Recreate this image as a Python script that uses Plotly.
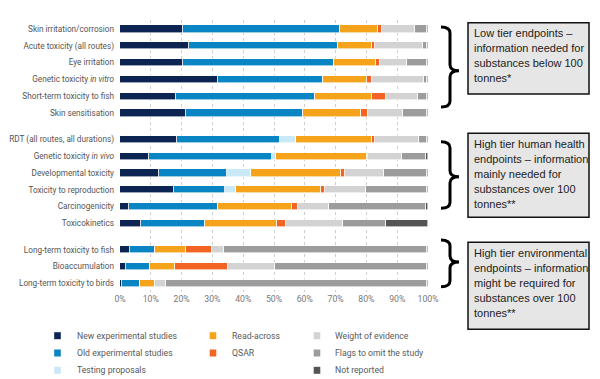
import plotly.graph_objects as go

categories = [
    "Skin irritation/corrosion", "Acute toxicity (all routes)", "Eye irritation",
    "Genetic toxicity <i>in vitro</i>", "Short-term toxicity to fish", "Skin sensitisation",
    "RDT (all routes, all durations)", "Genetic toxicity <i>in vivo</i>", "Developmental toxicity",
    "Toxicity to reproduction", "Carcinogenicity", "Toxicokinetics",
    "Long-term toxicity to fish", "Bioaccumulation", "Long-term toxicity to birds",
]
groups = [0, 0, 0, 0, 0, 0, 1, 1, 1, 1, 1, 1, 2, 2, 2]

new_experimental = [20.3, 22.5, 20.3, 31.7, 18.2, 21.4, 18.4, 9.3, 12.7, 17.6, 2.9, 6.9, 3.1, 1.8, 0.8]
old_experimental = [51.0, 48.4, 49.2, 34.1, 45.1, 38.0, 33.6, 40.0, 22.0, 16.6, 28.9, 20.8, 8.1, 8.0, 5.7]
testing_proposals = [0, 0, 0, 0, 0, 0, 5.3, 1.4, 7.9, 3.3, 0, 0, 0, 0, 0]
read_across = [12.4, 10.8, 13.6, 14.3, 18.6, 19.0, 24.6, 29.5, 29.2, 27.9, 24.1, 23.2, 10.3, 7.9, 4.8]
qsar = [1.5, 1.0, 1.4, 1.6, 4.5, 2.0, 0.8, 0.4, 1.3, 1.2, 2.0, 3.0, 8.4, 17.4, 0.2]
weight_of_evidence = [10.6, 15.7, 8.8, 16.9, 10.4, 11.6, 14.3, 10.8, 12.7, 13.2, 9.9, 18.6, 4.0, 15.3, 3.5]
flags_omit = [4.0, 1.4, 6.5, 1.2, 2.8, 7.6, 2.6, 8.0, 14.0, 20.0, 31.5, 14.0, 65.9, 49.2, 84.8]
not_reported = [0.2, 0.2, 0.2, 0.2, 0.4, 0.4, 0.4, 0.6, 0.2, 0.2, 0.7, 13.5, 0.2, 0.4, 0.2]

series_names = ["New experimental studies", "Old experimental studies", "Testing proposals",
                "Read-across", "QSAR", "Weight of evidence", "Flags to omit the study", "Not reported"]
series_values = [new_experimental, old_experimental, testing_proposals, read_across, qsar,
                 weight_of_evidence, flags_omit, not_reported]
series_colors = ["#0b2452", "#0a85c4", "#c9e8f8", "#f6a31c", "#f26423", "#d3d3d3", "#9c9c9c", "#555555"]

x_ticks = [0, 10, 20, 30, 40, 50, 60, 70, 80, 90, 100]

group_boxes = [
    ["Low tier endpoints –", "information needed for", "substances below 100", "tonnes*"],
    ["High tier human health", "endpoints – information", "mainly needed for", "substances over 100", "tonnes**"],
    ["High tier environmental", "endpoints – information", "might be required for", "substances over 100", "tonnes**"],
]

FONT = "Roboto, Liberation Sans, Arial, sans-serif"
BOXFONT = "Liberation Sans, Arial, sans-serif"

# row positions with a gap between groups
GAP = 0.57
ypos = [i + g * GAP for i, g in enumerate(groups)]

# page body has an 8px margin: figure is placed at (8, 8) in the window
OFF = 8
W, H = 600 - OFF, 379 - OFF
SPL, SPT, PW, PH = 120, 20, 308, 272   # plot area in window pixels
ROW = 16.8
FIRST_ROW = 29


def px(x):
    return (x - SPL) / PW


def py(y):
    return (SPT + PH - y) / PH


fig = go.Figure()
for name, vals, col in zip(series_names, series_values, series_colors):
    fig.add_trace(go.Bar(
        y=ypos, x=vals, name=name, orientation="h",
        marker=dict(color=col, line=dict(color="white", width=0.6)),
        width=0.42, showlegend=False,
    ))

shapes = []
annotations = []

# legend (3 columns, drawn manually)
legend_layout = [(0, 0), (0, 1), (0, 2), (1, 0), (1, 1), (2, 0), (2, 1), (2, 2)]
col_sq = [57.5, 213, 317]
col_tx = [75, 230, 333]
row_y = [335.7, 353, 370.3]
for (c, r), name, color in zip(legend_layout, series_names, series_colors):
    cx, cy = col_sq[c], row_y[r]
    shapes.append(dict(type="rect", xref="paper", yref="paper",
                       x0=px(cx - 3.3), x1=px(cx + 3.3), y0=py(cy + 3.5), y1=py(cy - 3.5),
                       fillcolor=color, line=dict(width=0)))
    annotations.append(dict(xref="paper", yref="paper", x=px(col_tx[c]), y=py(cy),
                            xanchor="left", yanchor="middle", showarrow=False, text=name,
                            font=dict(size=8.7, color="#5a5a5a", family=FONT)))


# braces and boxes
def brace(x0, x1, y0, y1, ym):
    xm = (x0 + x1) / 2
    r = 6
    pts = [
        f"M {px(x0)},{py(y0)}",
        f"Q {px(xm)},{py(y0)} {px(xm)},{py(y0 + r)}",
        f"L {px(xm)},{py(ym - r)}",
        f"Q {px(xm)},{py(ym)} {px(x1)},{py(ym)}",
        f"Q {px(xm)},{py(ym)} {px(xm)},{py(ym + r)}",
        f"L {px(xm)},{py(y1 - r)}",
        f"Q {px(xm)},{py(y1)} {px(x0)},{py(y1)}",
    ]
    return " ".join(pts)


brace_specs = [(27, 107, 70.7), (141.7, 208.3, 176.7), (240, 286.7, 262)]
box_specs = [(22.7, 94), (133.3, 217.3), (242.3, 329.3)]
for (b0, b1, bm), (t0, t1), lines in zip(brace_specs, box_specs, group_boxes):
    shapes.append(dict(type="path", xref="paper", yref="paper", path=brace(441, 459, b0, b1, bm),
                       line=dict(color="black", width=3)))
    shapes.append(dict(type="rect", xref="paper", yref="paper",
                       x0=px(468), x1=px(589), y0=py(t1), y1=py(t0),
                       fillcolor="#e6e6e6", line=dict(color="#111111", width=1.5)))
    for k, line in enumerate(lines):
        annotations.append(dict(xref="paper", yref="paper", x=px(471.5), y=py(t0 + 10.5 + 15 * k),
                                xanchor="left", yanchor="middle", align="left", showarrow=False,
                                text=line, font=dict(size=11, color="#222222", family=BOXFONT)))

fig.update_layout(
    width=W, height=H,
    margin=dict(l=SPL - OFF, r=W - (SPL - OFF) - PW, t=SPT - OFF, b=H - (SPT - OFF) - PH,
                autoexpand=False, pad=0),
    barmode="stack", bargap=0,
    plot_bgcolor="white", paper_bgcolor="white",
    shapes=shapes, annotations=annotations,
    font=dict(family=FONT, color="#555555"),
)
fig.update_xaxes(range=[0, 100], tickvals=x_ticks, ticktext=[f"{t}%" for t in x_ticks],
                 showgrid=True, gridcolor="#cfcfcf", griddash="3px,3px", gridwidth=1,
                 zeroline=False, showline=False, ticks="", automargin=False,
                 tickfont=dict(size=8.7, color="#777777", family=FONT), fixedrange=True)
fig.update_yaxes(range=[(SPT + PH - FIRST_ROW) / ROW, -(FIRST_ROW - SPT) / ROW],
                 tickvals=ypos, ticktext=categories,
                 showgrid=False, zeroline=False, showline=False, ticks="", automargin=False,
                 tickfont=dict(size=8.2, color="#555555", family=FONT), ticklabelstandoff=5,
                 fixedrange=True)

fig.write_html("out.html")
